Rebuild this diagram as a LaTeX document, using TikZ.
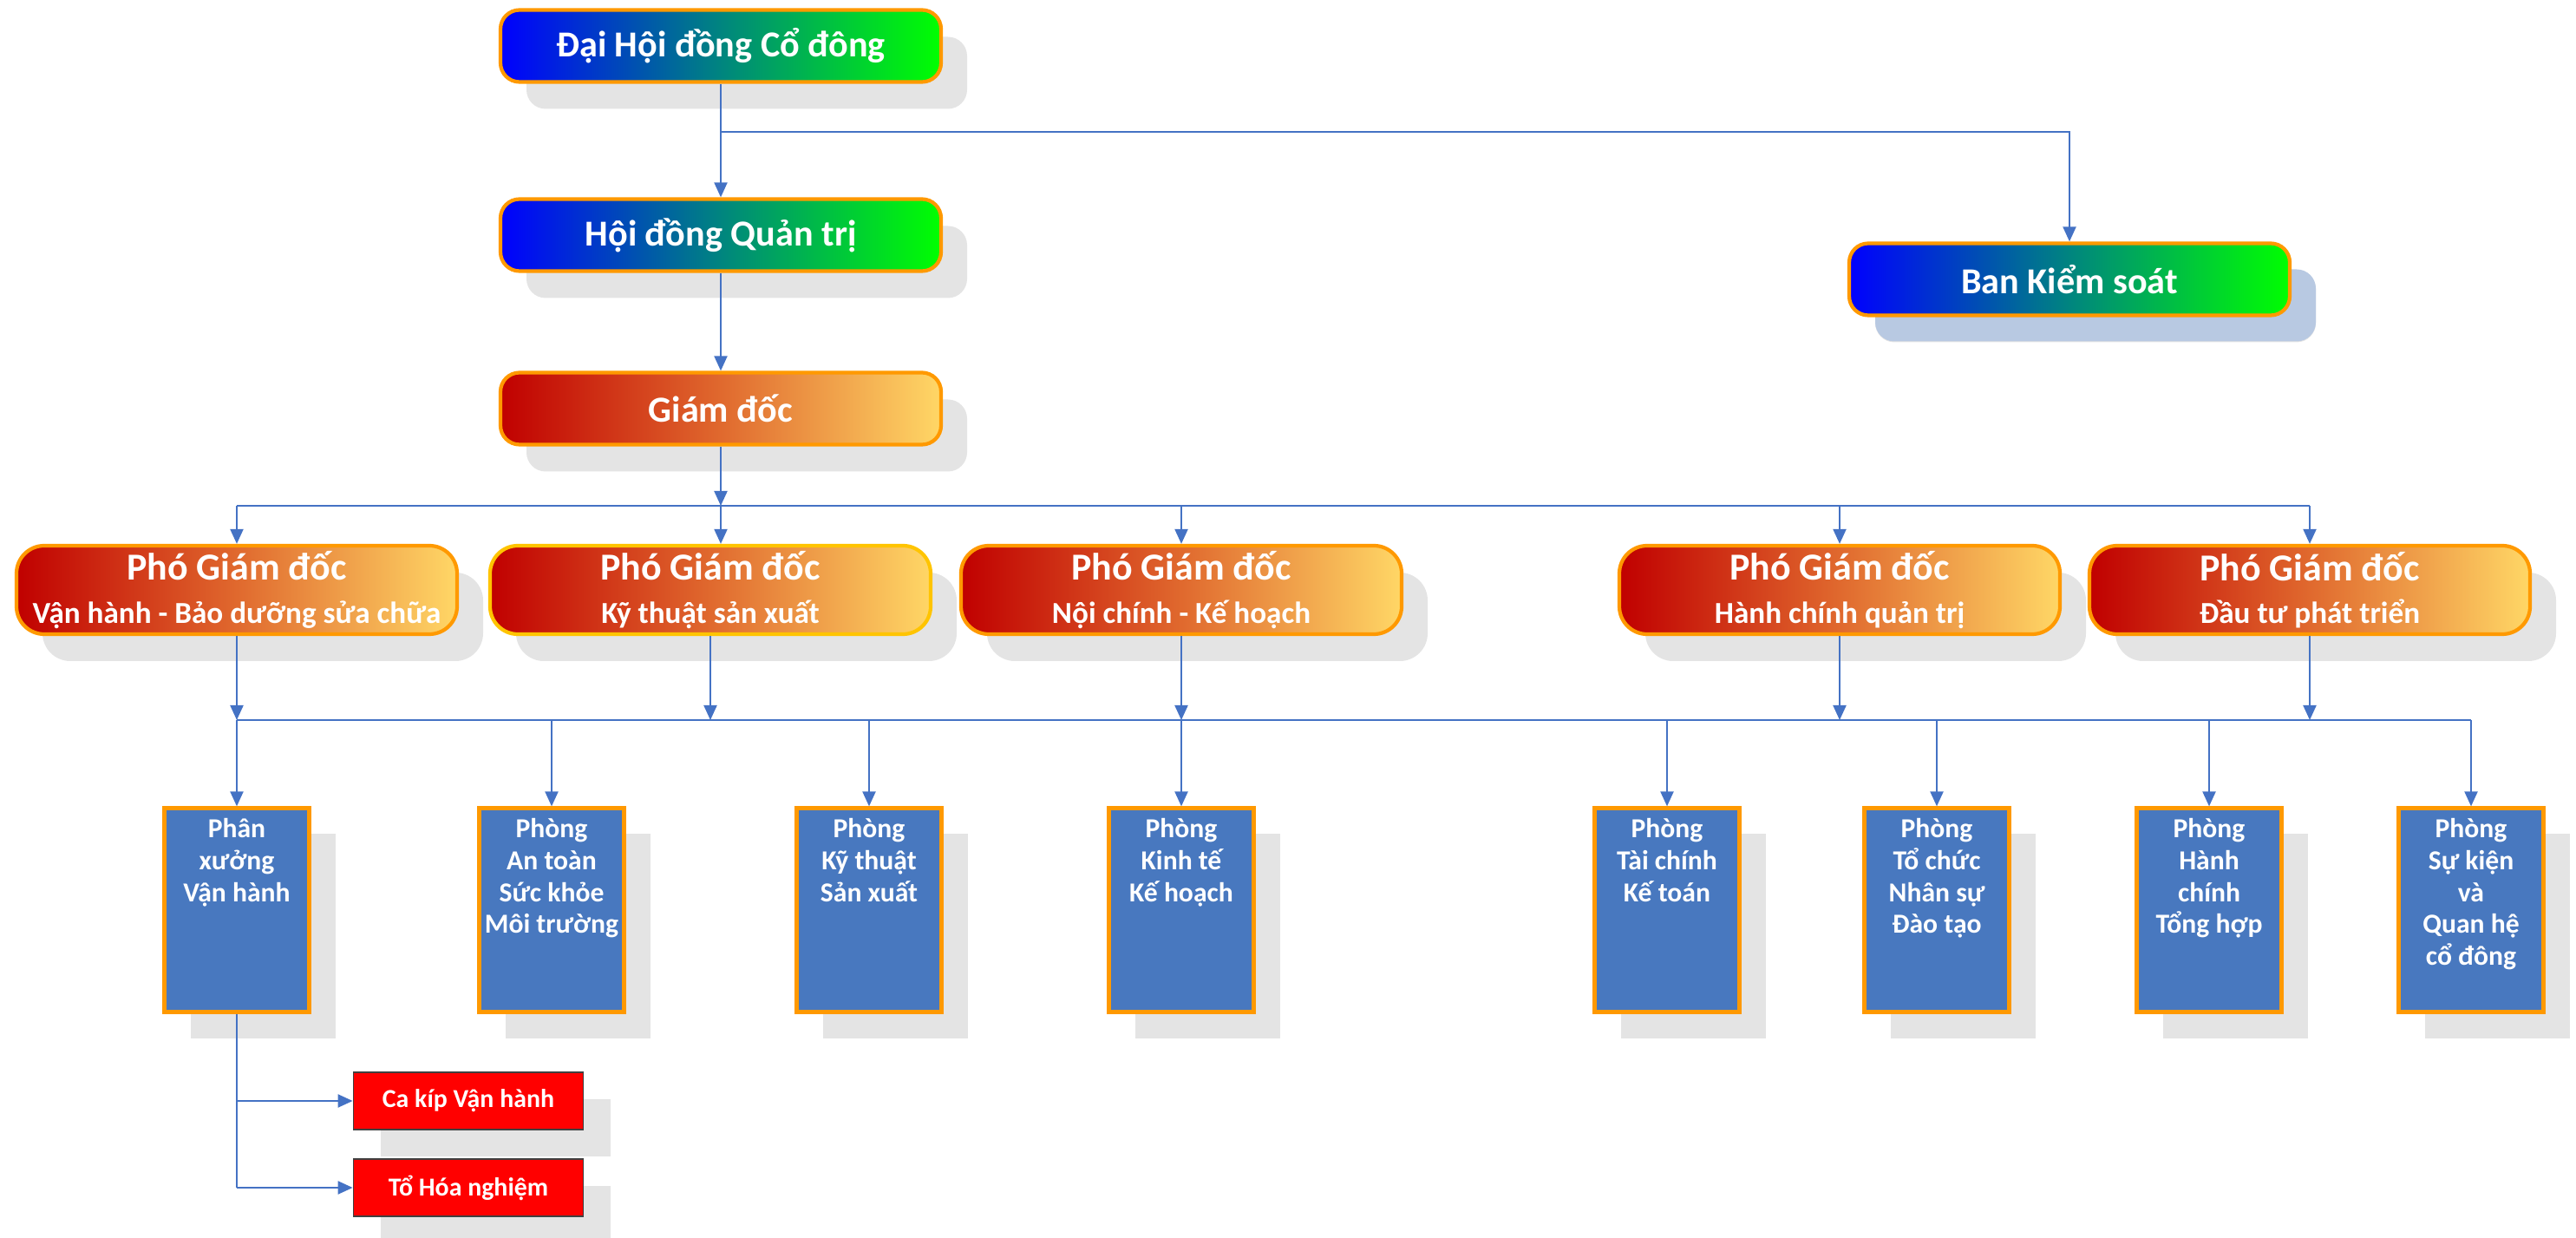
\documentclass[tikz,border=0pt]{standalone}
\usepackage{fontspec}
\setmainfont{Carlito}
\usetikzlibrary{positioning, calc, shapes, arrows.meta, shadows}
\definecolor{lineblue}{HTML}{4472C4}
\definecolor{boxblue}{HTML}{4878BF}
\definecolor{edgeorange}{HTML}{FF9900}
\definecolor{edgegold}{HTML}{FFC400}
\definecolor{shadowgray}{HTML}{E4E4E4}
\definecolor{shadowblue}{HTML}{B8C9E2}
\definecolor{gradblue}{HTML}{0000FF}
\definecolor{gradteal}{HTML}{00857F}
\definecolor{gradgreen}{HTML}{00FF00}
\definecolor{gradred}{HTML}{C00000}
\definecolor{gradorange}{HTML}{E0692E}
\definecolor{gradyellow}{HTML}{FFD766}
\tikzstyle{Arrow} = [
%connector with arrow head:
draw=lineblue, line width=0.6pt,
-{Triangle[length=0.17cm, width=0.15cm]}
]
\tikzstyle{Line} = [draw=lineblue, line width=0.6pt]

\begin{document}
\begin{tikzpicture}[
		board/.style = {rectangle, rounded corners=0.22cm, draw=edgeorange, line width=1.2pt, left color=gradblue, right color=gradgreen, middle color=gradteal, minimum width=5.08cm, minimum height=0.83cm, text=white, font=\bfseries\fontsize{12}{14}\selectfont, drop shadow={shadow xshift=0.3cm, shadow yshift=-0.31cm, fill=shadowgray, opacity=1}},
		director/.style = {board, left color=gradred, right color=gradyellow, middle color=gradorange},
		deputy/.style = {director, font=\bfseries\fontsize{12.5}{14}\selectfont, rounded corners=0.32cm, minimum height=1.02cm, align=center, inner sep=0pt},
		dept/.style = {rectangle, draw=edgeorange, line width=1.2pt, fill=boxblue, minimum width=1.67cm, minimum height=2.35cm, inner sep=0pt, text=white, font=\bfseries\fontsize{9}{10.4}\selectfont, drop shadow={shadow xshift=0.3cm, shadow yshift=-0.3cm, fill=shadowgray, opacity=1}},
		team/.style = {rectangle, draw=black!75, line width=0.5pt, fill=red, minimum width=2.65cm, minimum height=0.66cm, text=white, font=\bfseries\fontsize{8.5}{10}\selectfont, drop shadow={shadow xshift=0.31cm, shadow yshift=-0.31cm, fill=shadowgray, opacity=1}},
	]
	\useasboundingbox (0,0) rectangle (29.70,-14.27);

	% top levels
	\node[board](dhcd) at (8.31,-0.53){Đại Hội đồng Cổ đông};
	\node[board](hdqt) at (8.31,-2.71){Hội đồng Quản trị};
	\node[board, drop shadow={shadow xshift=0.3cm, shadow yshift=-0.3cm, fill=shadowblue, opacity=1}](bks) at (23.86,-3.22){Ban Kiểm soát};
	\node[director](gd) at (8.31,-4.71){Giám đốc};

	% deputies
	\node[deputy](pgd1) at (2.73,-6.80){Phó Giám đốc\\{\fontsize{10}{11.5}\selectfont Vận hành - Bảo dưỡng sửa chữa}};
	\node[deputy, draw=edgegold](pgd2) at (8.19,-6.80){Phó Giám đốc\\{\fontsize{10}{11.5}\selectfont Kỹ thuật sản xuất}};
	\node[deputy](pgd3) at (13.62,-6.80){Phó Giám đốc\\{\fontsize{10}{11.5}\selectfont Nội chính - Kế hoạch}};
	\node[deputy](pgd4) at (21.21,-6.80){Phó Giám đốc\\{\fontsize{10}{11.5}\selectfont Hành chính quản trị}};
	\node[deputy](pgd5) at (26.63,-6.80){Phó Giám đốc\\{\fontsize{10}{11.5}\selectfont Đầu tư phát triển}};

	% departments
	\node[dept](px) at (2.73,-10.49){\parbox[c][2.35cm][t]{1.62cm}{\centering\vspace*{3.5pt}Phân\\xưởng\\Vận hành}};
	\node[dept](atsk) at (6.36,-10.49){\parbox[c][2.35cm][t]{1.62cm}{\centering\vspace*{3.5pt}Phòng\\An toàn\\Sức khỏe\\Môi trường}};
	\node[dept](ktsx) at (10.02,-10.49){\parbox[c][2.35cm][t]{1.62cm}{\centering\vspace*{3.5pt}Phòng\\Kỹ thuật\\Sản xuất}};
	\node[dept](ktkh) at (13.62,-10.49){\parbox[c][2.35cm][t]{1.62cm}{\centering\vspace*{3.5pt}Phòng\\Kinh tế\\Kế hoạch}};
	\node[dept](tckt) at (19.22,-10.49){\parbox[c][2.35cm][t]{1.62cm}{\centering\vspace*{3.5pt}Phòng\\Tài chính\\Kế toán}};
	\node[dept](tcns) at (22.33,-10.49){\parbox[c][2.35cm][t]{1.62cm}{\centering\vspace*{3.5pt}Phòng\\Tổ chức\\Nhân sự\\Đào tạo}};
	\node[dept](hcth) at (25.47,-10.49){\parbox[c][2.35cm][t]{1.62cm}{\centering\vspace*{3.5pt}Phòng\\Hành\\chính\\Tổng hợp}};
	\node[dept](skqh) at (28.49,-10.49){\parbox[c][2.35cm][t]{1.62cm}{\centering\vspace*{3.5pt}Phòng\\Sự kiện\\và\\Quan hệ\\cổ đông}};

	% teams
	\node[team](cakip) at (5.40,-12.69){Ca kíp Vận hành};
	\node[team](tohn) at (5.40,-13.69){Tổ Hóa nghiệm};

	% connectors
	\coordinate(split) at (8.31,-1.52);
	\coordinate(bus1) at (0,-5.83);
	\coordinate(bus2) at (0,-8.30);

	\draw[Arrow](dhcd)--(hdqt);
	\draw[Arrow](split)-|(bks);
	\draw[Arrow](hdqt)--(gd);

	\draw[Arrow](gd.south)--(gd.south |- bus1);
	\draw[Line](pgd1.north |- bus1)--(pgd5.north |- bus1);
	\draw[Arrow](pgd1.north |- bus1)--(pgd1.north);
	\draw[Arrow](gd.south |- bus1)--(gd.south |- pgd2.north);
	\draw[Arrow](pgd3.north |- bus1)--(pgd3.north);
	\draw[Arrow](pgd4.north |- bus1)--(pgd4.north);
	\draw[Arrow](pgd5.north |- bus1)--(pgd5.north);

	\foreach \p in {pgd1, pgd2, pgd3, pgd4, pgd5}
		\draw[Arrow](\p.south)--(\p.south |- bus2);
	\draw[Line](px.north |- bus2)--(skqh.north |- bus2);
	\foreach \d in {px, atsk, ktsx, ktkh, tckt, tcns, hcth, skqh}
		\draw[Arrow](\d.north |- bus2)--(\d.north);

	\draw[Line](px.south)--(px.south |- tohn.west);
	\draw[Arrow](px.south |- cakip.west)--(cakip.west);
	\draw[Arrow](px.south |- tohn.west)--(tohn.west);
\end{tikzpicture}
\end{document}
